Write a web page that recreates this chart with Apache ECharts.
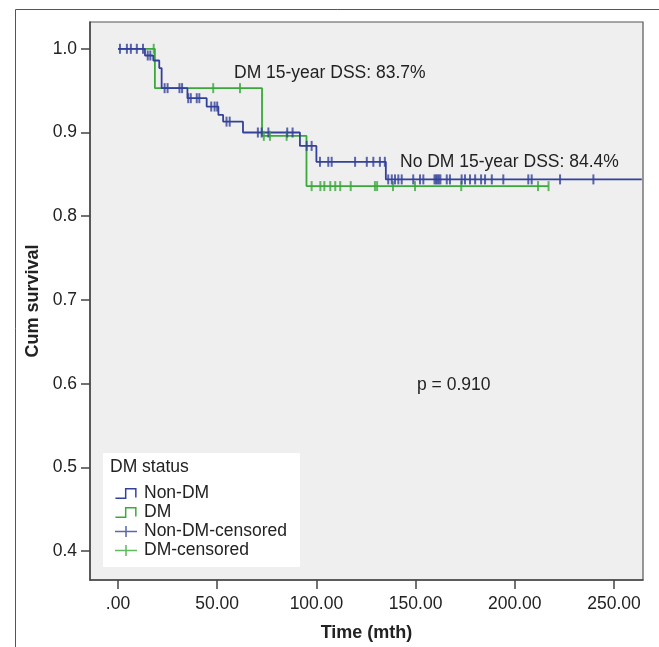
<!DOCTYPE html>
<html>
<head>
<meta charset="utf-8">
<script src="https://cdn.jsdelivr.net/npm/echarts@6/dist/echarts.min.js"></script>
<style>
html,body{margin:0;padding:0;background:#fff;}
#chart{width:659px;height:647px;}
</style>
</head>
<body>
<div id="chart"></div>
<script>
// Kaplan-Meier step curves (time in months, cumulative survival after that time)
const nonDmTimes = [0, 13.6, 17.8, 20.8, 22, 35, 44.7, 50.6, 53, 63, 91.7, 100, 135, 264];
const nonDmSurv  = [1.0, 0.992, 0.986, 0.977, 0.953, 0.941, 0.931, 0.921, 0.913, 0.900, 0.884, 0.865, 0.844, 0.844];
const dmTimes = [0, 18.6, 72.6, 95, 217];
const dmSurv  = [1.0, 0.953, 0.896, 0.836, 0.836];
// censored observation times
const nonDmCensored = [1, 4.5, 6.5, 9.5, 12.6, 15, 16.3, 23.5, 25, 31, 32.3, 35.4, 36.7, 39.7, 41,
  47, 48.7, 50, 54.7, 56.3, 70.5, 72.4, 75.8, 85.3, 88, 95.1, 97.6,
  101.8, 106, 107.7, 119.5, 125.4, 128.7, 132, 134.5,
  136.2, 138, 139.6, 141.3, 143, 148.8, 152.2, 153.9, 159.5, 160.3, 161, 161.7, 162.5,
  165.7, 167.3, 173.2, 174.9, 177.4, 180, 183, 185, 188.4, 194.2, 206.8, 208.5, 222.8, 239.6];
const dmCensored = [18, 48, 61.5, 73.5, 76.6, 85, 97.6, 102, 104, 107, 109.5, 112, 117.3,
  129.5, 130.6, 138.6, 149.7, 173, 211.7, 217];
// axis ticks
const xTicks = [0, 50, 100, 150, 200, 250];
const yTicks = [0.4, 0.5, 0.6, 0.7, 0.8, 0.9, 1.0];

const BLUE = '#33419a';
const GREEN = '#3aa83a';
const FONT = '"Liberation Sans", Arial, sans-serif';

function survAt(times, surv, t) {
  let v = surv[0];
  for (let i = 0; i < times.length; i++) { if (times[i] <= t) v = surv[i]; }
  return v;
}
const pairs = (a, b) => a.map((t, i) => [t, b[i]]);
const censPts = (c, times, surv) => c.map(t => [t, survAt(times, surv, t)]);

const stepIcon = 'path://M0,9 L9,9 L9,0 L20,0 L20,9 L18.6,9 L18.6,1.4 L10.4,1.4 L10.4,10.4 L0,10.4 Z';
const plusIcon = 'path://M0,4.4 L20,4.4 L20,5.6 L0,5.6 Z M9.3,0 L10.7,0 L10.7,10 L9.3,10 Z';

const chart = echarts.init(document.getElementById('chart'), null, {renderer: 'canvas'});
chart.setOption({
  animation: false,
  backgroundColor: '#ffffff',
  textStyle: {fontFamily: FONT},
  grid: {left: 90, top: 22, right: 16, bottom: 65, show: true, backgroundColor: '#efefef',
         borderColor: '#555', borderWidth: 1.2},
  xAxis: {
    type: 'value', min: -14.1, max: 264.6,
    name: 'Time (mth)', nameLocation: 'middle', nameGap: 44,
    nameTextStyle: {fontFamily: FONT, fontSize: 18, fontWeight: 'bold', color: '#222'},
    axisLine: {show: true, onZero: false, lineStyle: {color: '#444', width: 1.5}},
    axisTick: {show: true, length: 9, customValues: xTicks, lineStyle: {color: '#444', width: 1.5}},
    axisLabel: {customValues: xTicks, margin: 15, fontSize: 17.5, color: '#222', fontFamily: FONT,
      formatter: v => v === 0 ? '.00' : v.toFixed(2)},
    splitLine: {show: false}
  },
  yAxis: {
    type: 'value', min: 0.3655, max: 1.032,
    name: 'Cum survival', nameLocation: 'middle', nameGap: 47, nameRotate: 90,
    nameTextStyle: {fontFamily: FONT, fontSize: 18, fontWeight: 'bold', color: '#222'},
    axisLine: {show: true, onZero: false, lineStyle: {color: '#444', width: 1.5}},
    axisTick: {show: true, length: 9, customValues: yTicks, lineStyle: {color: '#444', width: 1.5}},
    axisLabel: {customValues: yTicks, margin: 13, fontSize: 17.5, color: '#222', fontFamily: FONT,
      formatter: v => v.toFixed(1)},
    splitLine: {show: false}
  },
  legend: {
    orient: 'vertical', left: 110, top: 479, itemWidth: 26, itemHeight: 11, itemGap: 0,
    textStyle: {fontFamily: FONT, fontSize: 17.5, color: '#222', lineHeight: 19},
    selectedMode: false, z: 10,
    data: [
      {name: 'Non-DM', icon: stepIcon},
      {name: 'DM', icon: stepIcon},
      {name: 'Non-DM-censored', icon: plusIcon},
      {name: 'DM-censored', icon: plusIcon}
    ]
  },
  graphic: [
    {type: 'rect', left: 13, top: 7, z: -10, silent: true,
     shape: {width: 660, height: 660}, style: {fill: 'none', stroke: '#555', lineWidth: 1}},
    {type: 'rect', left: 103, top: 453, z: 5, silent: true,
     shape: {width: 197, height: 114}, style: {fill: '#ffffff', stroke: 'none'}},
    {type: 'text', left: 110, top: 458, z: 11, silent: true,
     style: {text: 'DM status', font: '17.5px ' + FONT, fill: '#222'}},
    {type: 'text', left: 234, top: 64, z: 11, silent: true,
     style: {text: 'DM 15-year DSS: 83.7%', font: '17.5px ' + FONT, fill: '#222'}},
    {type: 'text', left: 400, top: 153, z: 11, silent: true,
     style: {text: 'No DM 15-year DSS: 84.4%', font: '17.5px ' + FONT, fill: '#222'}},
    {type: 'text', left: 417, top: 376, z: 11, silent: true,
     style: {text: 'p = 0.910', font: '17.5px ' + FONT, fill: '#222'}}
  ],
  series: [
    {name: 'DM', type: 'line', step: 'end', data: pairs(dmTimes, dmSurv), showSymbol: false,
     color: GREEN, lineStyle: {color: GREEN, width: 1.8}, itemStyle: {color: GREEN}, z: 2},
    {name: 'Non-DM', type: 'line', step: 'end', data: pairs(nonDmTimes, nonDmSurv), showSymbol: false,
     color: BLUE, lineStyle: {color: BLUE, width: 1.8}, itemStyle: {color: BLUE}, z: 3},
    {name: 'DM-censored', type: 'scatter', data: censPts(dmCensored, dmTimes, dmSurv),
     symbol: 'rect', symbolSize: [2, 10], itemStyle: {color: GREEN}, z: 4},
    {name: 'Non-DM-censored', type: 'scatter', data: censPts(nonDmCensored, nonDmTimes, nonDmSurv),
     symbol: 'rect', symbolSize: [2, 10], itemStyle: {color: BLUE}, z: 5}
  ]
});
</script>
</body>
</html>
